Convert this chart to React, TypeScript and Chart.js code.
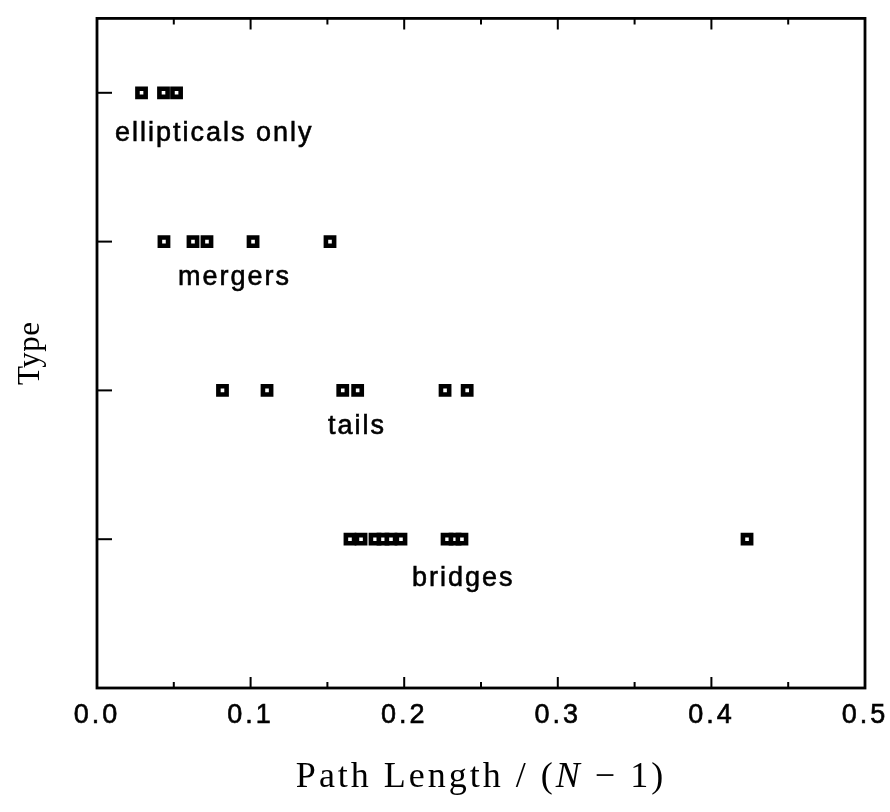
import { useEffect, useRef } from "react";
import { Chart, registerables } from "chart.js";

Chart.register(...registerables);

// ---- data ----
const categories = ["bridges", "tails", "mergers", "ellipticals only"];
const categoryLevels = [1, 2, 3, 4];

const bridgesX = [0.1647, 0.1719, 0.181, 0.1862, 0.1914, 0.1979, 0.2279, 0.2331, 0.2376, 0.4232];
const tailsX = [0.0817, 0.1107, 0.16, 0.1697, 0.2266, 0.241];
const mergersX = [0.0436, 0.0625, 0.0716, 0.1016, 0.1517];
const ellipticalsX = [0.029, 0.0433, 0.0518];

const seriesX = [bridgesX, tailsX, mergersX, ellipticalsX];

// annotation anchors (data units)
const labelX = [0.2051, 0.1504, 0.0527, 0.0117];
const labelY = [0.688, 1.705, 2.707, 3.676];

const xMin = 0;
const xMax = 0.5;
const xStep = 0.1;
const xMinorStep = 0.05;
const yMin = 0;
const yMax = 4.5;

const xTitleParts = [
  { text: "Path Length / (", italic: false },
  { text: "N", italic: true },
  { text: " \u2212 1)", italic: false },
];
const yTitle = "Type";

const framePlugin = {
  id: "framePlugin",
  beforeDraw(chart: any) {
    chart.ctx.letterSpacing = "3px";
  },
  afterDraw(chart: any) {
    const ctx = chart.ctx as CanvasRenderingContext2D;
    const { left, right, top, bottom } = chart.chartArea;
    const xs = chart.scales.x;
    const ys = chart.scales.y;
    ctx.save();
    (ctx as any).letterSpacing = "0px";
    ctx.strokeStyle = "#000";
    ctx.lineCap = "butt";

    // x ticks (inside, top and bottom)
    ctx.lineWidth = 2;
    const nMinor = Math.round((xMax - xMin) / xMinorStep);
    for (let i = 1; i < nMinor; i++) {
      const v = xMin + i * xMinorStep;
      const px = xs.getPixelForValue(v);
      const major = i % 2 === 0;
      const len = major ? 11 : 6;
      ctx.beginPath();
      ctx.moveTo(px, bottom);
      ctx.lineTo(px, bottom - len);
      ctx.moveTo(px, top);
      ctx.lineTo(px, top + len);
      ctx.stroke();
    }
    // y ticks (inside, left)
    categoryLevels.forEach((lv) => {
      const py = ys.getPixelForValue(lv);
      ctx.beginPath();
      ctx.moveTo(left, py);
      ctx.lineTo(left + 15, py);
      ctx.stroke();
    });

    // frame
    ctx.lineWidth = 2.8;
    ctx.strokeRect(left, top, right - left, bottom - top);

    // category labels
    ctx.fillStyle = "#000";
    ctx.strokeStyle = "#000";
    ctx.lineWidth = 0.6;
    ctx.font = '27px "Liberation Sans", Arial, sans-serif';
    (ctx as any).letterSpacing = "2px";
    ctx.textAlign = "left";
    ctx.textBaseline = "alphabetic";
    categories.forEach((c, i) => {
      const px = xs.getPixelForValue(labelX[i]);
      const py = ys.getPixelForValue(labelY[i]);
      ctx.fillText(c, px, py);
      ctx.strokeText(c, px, py);
    });

    // x title (mixed fonts)
    (ctx as any).letterSpacing = "3px";
    const fontN = '36px "Liberation Serif", "Times New Roman", serif';
    const fontI = 'italic 36px "Liberation Serif", "Times New Roman", serif';
    let total = 0;
    const widths = xTitleParts.map((p) => {
      ctx.font = p.italic ? fontI : fontN;
      const w = ctx.measureText(p.text).width;
      total += w;
      return w;
    });
    let cx = (left + right) / 2 - total / 2;
    const ty = bottom + 99;
    ctx.textBaseline = "alphabetic";
    xTitleParts.forEach((p, i) => {
      ctx.font = p.italic ? fontI : fontN;
      ctx.fillText(p.text, cx, ty);
      cx += widths[i];
    });

    // y title
    (ctx as any).letterSpacing = "0.5px";
    ctx.save();
    ctx.translate(left - 66, (top + bottom) / 2);
    ctx.rotate(-Math.PI / 2);
    ctx.font = '31px "Liberation Serif", "Times New Roman", serif';
    ctx.textAlign = "center";
    ctx.textBaseline = "middle";
    ctx.fillText(yTitle, 0, 0);
    ctx.restore();

    ctx.restore();
    (ctx as any).letterSpacing = "0px";
  },
};

export default function App() {
  const ref = useRef<HTMLCanvasElement>(null);

  useEffect(() => {
    if (!ref.current) return;
    const datasets = seriesX.map((xsArr, i) => ({
      label: categories[i],
      data: xsArr.map((x) => ({ x, y: categoryLevels[i] })),
      pointStyle: "rect" as const,
      pointRadius: 5.8,
      pointBorderWidth: 4.6,
      pointBackgroundColor: "#fff",
      pointBorderColor: "#000",
      showLine: false,
    }));
    const chart = new Chart(ref.current, {
      type: "scatter",
      data: { datasets },
      options: {
        animation: false,
        responsive: false,
        events: [],
        layout: { padding: { top: 7, right: 25, left: 0, bottom: 0 } },
        plugins: { legend: { display: false }, tooltip: { enabled: false } },
        scales: {
          x: {
            type: "linear",
            position: "bottom",
            min: xMin,
            max: xMax,
            grid: { display: false, drawTicks: false },
            border: { display: false },
            ticks: {
              stepSize: xStep,
              autoSkip: false,
              maxRotation: 0,
              padding: 11,
              color: "#000",
              textStrokeColor: "#000",
              textStrokeWidth: 0.6,
              font: { family: '"Liberation Sans", Arial, sans-serif', size: 27 },
              callback: (v: any) => Number(v).toFixed(1),
            },
            afterFit: (s: any) => {
              s.height = 116;
              s.paddingLeft = 0;
              s.paddingRight = 0;
            },
          },
          y: {
            type: "linear",
            min: yMin,
            max: yMax,
            grid: { display: false, drawTicks: false },
            border: { display: false },
            ticks: { display: false },
            afterFit: (s: any) => {
              s.width = 89;
              s.paddingTop = 0;
              s.paddingBottom = 0;
            },
          },
        },
      },
      plugins: [framePlugin],
    });
    return () => chart.destroy();
  }, []);

  return (
    <div style={{ position: "absolute", left: 8, top: 8, width: 882, height: 796 }}>
      <canvas ref={ref} width={882} height={796} style={{ display: "block" }} />
    </div>
  );
}
